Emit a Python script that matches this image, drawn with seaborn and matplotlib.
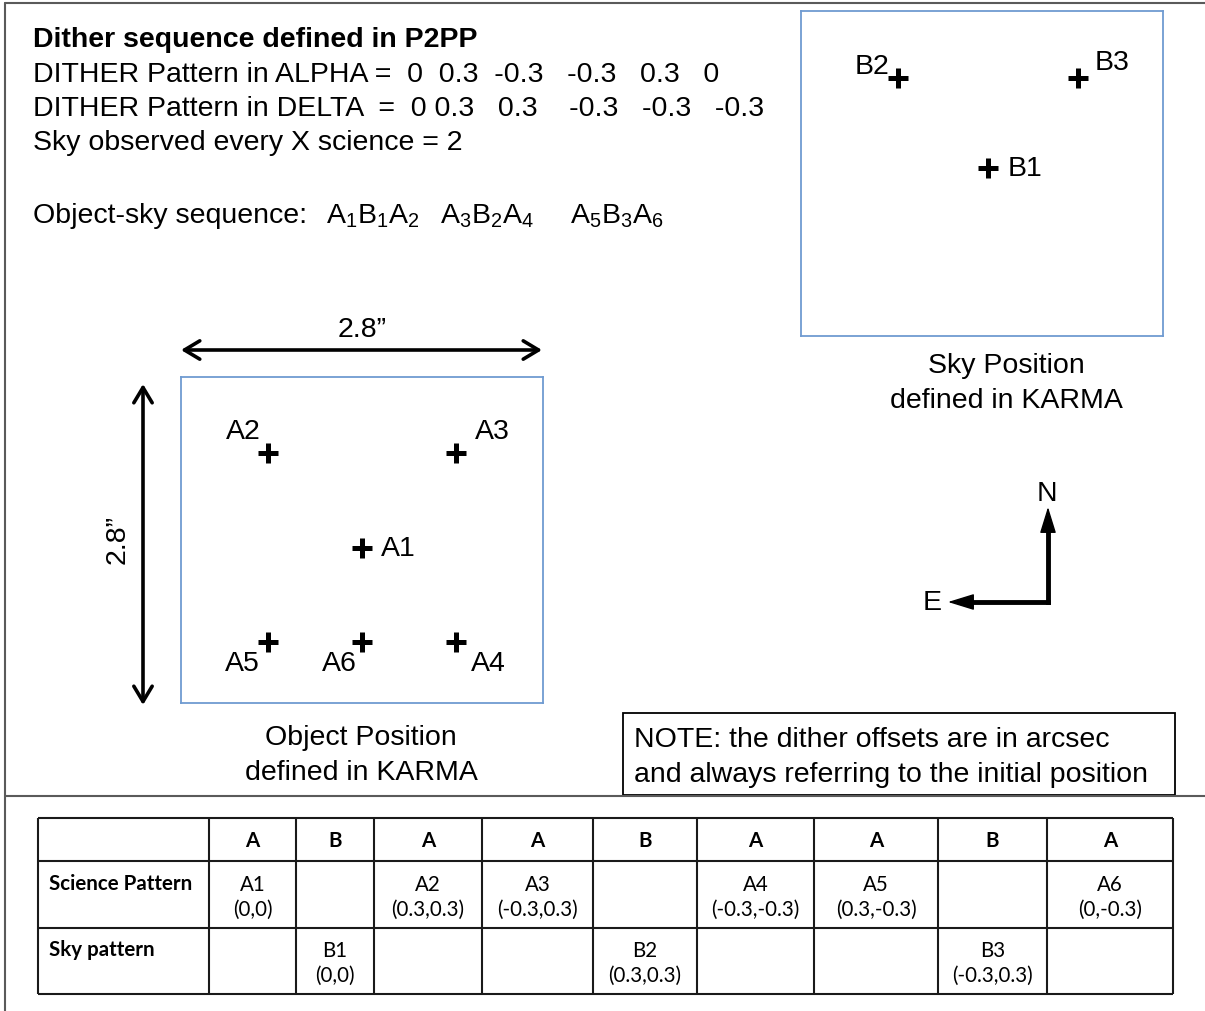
#!/usr/bin/env python3
"""
Dither pattern sketch: object / sky offsets and the observing sequence table.
"""

import matplotlib
matplotlib.use('Agg')
import matplotlib.pyplot as plt
from matplotlib.patches import Rectangle
import seaborn as sns
import pandas as pd

# dither offsets in arcsec (alpha, delta)
OBJ_LABELS = ['A1', 'A2', 'A3', 'A4', 'A5', 'A6']
OBJ_ALPHA = [0, 0.3, -0.3, -0.3, 0.3, 0]
OBJ_DELTA = [0, 0.3, 0.3, -0.3, -0.3, -0.3]
SKY_LABELS = ['B1', 'B2', 'B3']
SKY_ALPHA = [0, 0.3, -0.3]
SKY_DELTA = [0, 0.3, 0.3]
SEQUENCE = ['A', 'B', 'A', 'A', 'B', 'A', 'A', 'B', 'A']
SKY_EVERY = 2
FIELD_SIZE = '2.8\u201d'

W, H = 1205, 1012
FONT = 'Liberation Sans'
FS = 20.5

# label offsets (pixels) relative to each cross
OBJ_OFFSETS = {'A1': (36, 0), 'A2': (-25, 22), 'A3': (36, 22), 'A4': (32, -21),
               'A5': (-26, -21), 'A6': (-23, -21)}
SKY_OFFSETS = {'B1': (37, 0), 'B2': (-26, 12), 'B3': (34, 16)}

# number of spaces between the values on the two DITHER lines (layout only)
ALPHA_GAPS = [2, 2, 3, 3, 3]
DELTA_GAPS = [1, 3, 4, 3, 3]

BOX_BLUE = '#6f9bd1'
FRAME_GREY = '#5a5a5a'


def fmt(v):
    return f'{v:g}'


def spaced(values, gaps):
    out = fmt(values[0])
    for v, g in zip(values[1:], gaps):
        out += ' ' * g + fmt(v)
    return out


def add_box_axes(fig, x0, y0, x1, y1, xlim, ylim):
    bax = fig.add_axes([x0 / W, 1 - y1 / H, (x1 - x0) / W, (y1 - y0) / H])
    bax.set_xlim(*xlim)
    bax.set_ylim(*ylim)
    bax.set_xticks([])
    bax.set_yticks([])
    bax.patch.set_alpha(0)
    for sp in bax.spines.values():
        sp.set_color(BOX_BLUE)
        sp.set_linewidth(1.3)
    return bax


def draw_crosses(bax, df, offsets):
    sns.scatterplot(data=df, x='alpha', y='delta', marker='+', s=190,
                    linewidth=3.6, color='black', ax=bax, legend=False, zorder=3)
    for _, r in df.iterrows():
        dx, dy = offsets[r['label']]
        bax.annotate(r['label'], (r['alpha'], r['delta']), xytext=(dx, dy),
                     textcoords='offset pixels', ha='center', va='center',
                     fontsize=FS, family=FONT, color='black')
    bax.set_xlabel('')
    bax.set_ylabel('')


def main():
    sns.set_theme(style='white')
    plt.rcParams['font.family'] = [FONT, 'DejaVu Sans']
    plt.rcParams['text.color'] = 'black'
    plt.rcParams['mathtext.fontset'] = 'custom'
    plt.rcParams['mathtext.rm'] = FONT

    fig = plt.figure(figsize=(W / 100, H / 100), dpi=100)
    ax = fig.add_axes([0, 0, 1, 1])
    ax.set_xlim(0, W)
    ax.set_ylim(H, 0)
    ax.axis('off')

    # outer frame
    ax.plot([5, 5], [4, H], color=FRAME_GREY, lw=1.5)
    ax.plot([5, W], [4, 4], color=FRAME_GREY, lw=1.5)
    ax.plot([5, W], [797, 797], color=FRAME_GREY, lw=1.5)

    # header text
    ax.text(33, 47, 'Dither sequence defined in P2PP', fontsize=FS, fontweight='bold', va='baseline')
    ax.text(33, 82, 'DITHER Pattern in ALPHA =  ' + spaced(OBJ_ALPHA, ALPHA_GAPS),
            fontsize=FS, va='baseline')
    ax.text(33, 116, 'DITHER Pattern in DELTA  =  ' + spaced(OBJ_DELTA, DELTA_GAPS),
            fontsize=FS, va='baseline')
    ax.text(33, 150, f'Sky observed every X science = {SKY_EVERY}', fontsize=FS, va='baseline')

    # object-sky sequence with subscripts
    groups = []
    ia, ib = 0, 0
    grp = ''
    for s in SEQUENCE:
        if s == 'A':
            ia += 1
            grp += f'A_{ia}'
        else:
            ib += 1
            grp += f'B_{ib}'
        if len(grp.replace('_', '')) >= 6:
            groups.append(grp)
            grp = ''
    ax.text(33, 223, 'Object-sky sequence:', fontsize=FS, va='baseline')
    for gx, g in zip([326, 440, 570], groups):
        ax.text(gx, 223, r'$\mathregular{' + g + '}$', fontsize=FS, va='baseline')

    # object box
    obj = pd.DataFrame({'label': OBJ_LABELS, 'alpha': OBJ_ALPHA, 'delta': OBJ_DELTA})
    bax = add_box_axes(fig, 181, 378, 543, 704, (0.578, -0.578), (-0.496, 0.544))
    draw_crosses(bax, obj, OBJ_OFFSETS)

    # sky box
    sky = pd.DataFrame({'label': SKY_LABELS, 'alpha': SKY_ALPHA, 'delta': SKY_DELTA})
    sax = add_box_axes(fig, 801, 12, 1163, 337, (0.623, -0.583), (-0.56, 0.523))
    draw_crosses(sax, sky, SKY_OFFSETS)

    # size arrows
    arrow_kw = dict(arrowstyle='<->,head_length=0.5,head_width=0.3', lw=2.6,
                    color='black', mutation_scale=22, shrinkA=0, shrinkB=0)
    ax.annotate('', xy=(181, 351), xytext=(542, 351), arrowprops=arrow_kw)
    ax.annotate('', xy=(143, 385), xytext=(143, 706), arrowprops=arrow_kw)
    ax.text(362, 330, FIELD_SIZE, fontsize=FS, ha='center', va='center')
    ax.text(118, 540, FIELD_SIZE, fontsize=FS, ha='center', va='center', rotation=90)

    # captions
    ax.text(361, 738, 'Object Position', fontsize=FS, ha='center', va='center')
    ax.text(361, 773, 'defined in KARMA', fontsize=FS, ha='center', va='center')
    ax.text(1006, 366, 'Sky Position', fontsize=FS, ha='center', va='center')
    ax.text(1006, 401, 'defined in KARMA', fontsize=FS, ha='center', va='center')

    # compass
    comp_kw = dict(arrowstyle='-|>,head_length=0.55,head_width=0.17', lw=1,
                   color='black', mutation_scale=30, shrinkA=0, shrinkB=0)
    ax.plot([1048, 1048], [525, 603], color='black', lw=3.5, solid_capstyle='projecting')
    ax.plot([965, 1048], [603, 603], color='black', lw=3.5, solid_capstyle='projecting')
    ax.annotate('', xy=(1048, 508), xytext=(1048, 560), arrowprops=comp_kw)
    ax.annotate('', xy=(948, 603), xytext=(1000, 603), arrowprops=comp_kw)
    ax.text(1047, 494, 'N', fontsize=FS, ha='center', va='center')
    ax.text(932, 603, 'E', fontsize=FS, ha='center', va='center')

    # note box
    ax.add_patch(Rectangle((623, 714), 552, 82, fill=False, ec='black', lw=1.3))
    ax.text(634, 740, 'NOTE: the dither offsets are in arcsec', fontsize=FS, va='center')
    ax.text(634, 775, 'and always referring to the initial position', fontsize=FS, va='center')

    # sequence table
    col_edges = [38, 209, 296, 374, 482, 593, 697, 814, 938, 1047, 1173]
    row_edges = [819, 862, 929, 995]
    ax.hlines(row_edges, col_edges[0], col_edges[-1], color='#1a1a1a', lw=1.5)
    ax.vlines(col_edges, row_edges[0], row_edges[-1], color='#1a1a1a', lw=1.5)

    tfont = 'Lato'
    tfs = 14.8
    ax.text(49, 884, 'Science Pattern', family=tfont, fontsize=tfs, fontweight='bold', va='center')
    ax.text(49, 950, 'Sky pattern', family=tfont, fontsize=tfs, fontweight='bold', va='center')
    ia, ib = 0, 0
    for j, s in enumerate(SEQUENCE):
        cx = (col_edges[j + 1] + col_edges[j + 2]) / 2
        ax.text(cx, 841, s, family=tfont, fontsize=tfs, fontweight='bold', ha='center', va='center')
        if s == 'A':
            txt = f'{OBJ_LABELS[ia]}\n({fmt(OBJ_ALPHA[ia])},{fmt(OBJ_DELTA[ia])})'
            ax.text(cx, 897, txt, family=tfont, fontsize=tfs, ha='center', va='center', linespacing=1.3)
            ia += 1
        else:
            txt = f'{SKY_LABELS[ib]}\n({fmt(SKY_ALPHA[ib])},{fmt(SKY_DELTA[ib])})'
            ax.text(cx, 963, txt, family=tfont, fontsize=tfs, ha='center', va='center', linespacing=1.3)
            ib += 1

    fig.savefig('out.png', dpi=100)
    plt.close(fig)


if __name__ == '__main__':
    main()
